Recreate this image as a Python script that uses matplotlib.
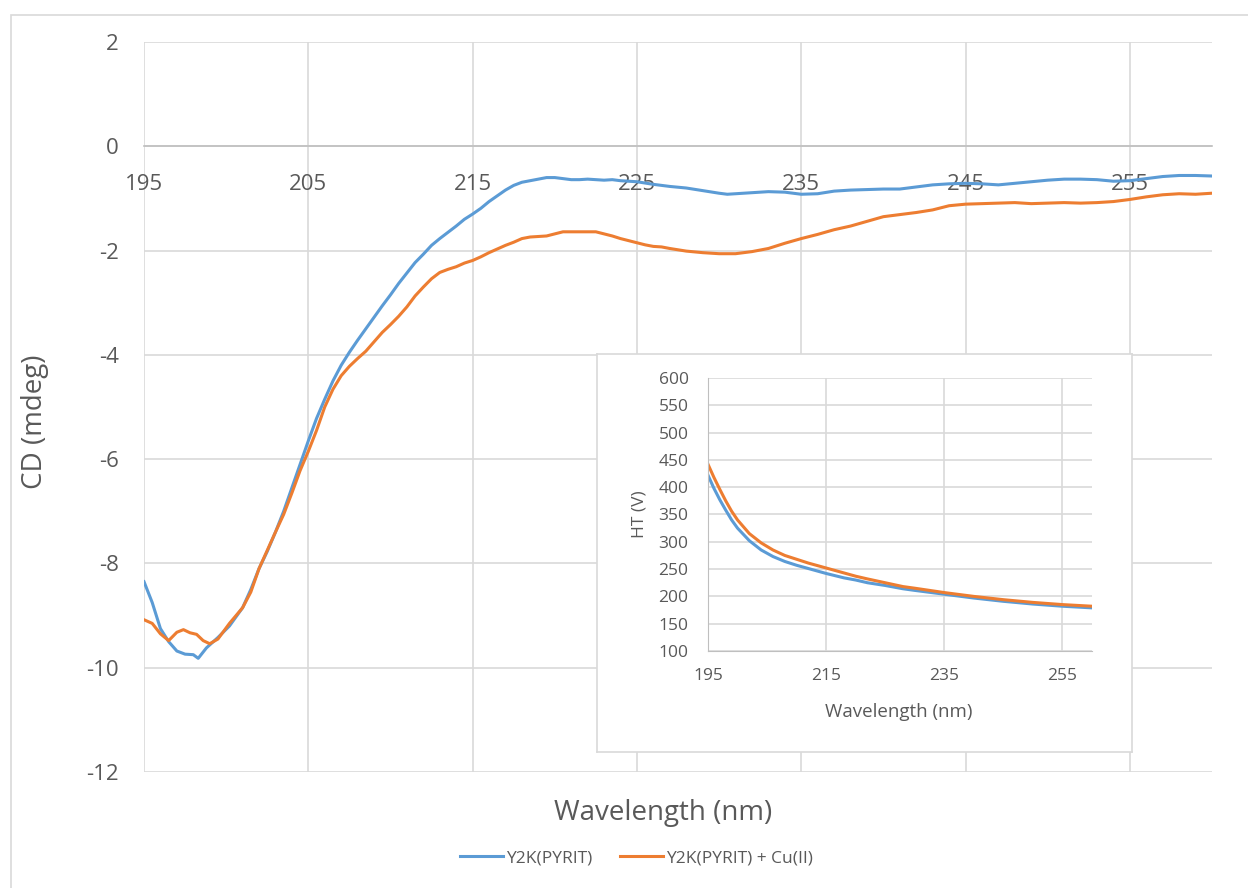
import matplotlib
matplotlib.use("Agg")
import matplotlib.pyplot as plt
from matplotlib.patches import Rectangle

plt.rcParams['font.family'] = ['Open Sans', 'DejaVu Sans']
plt.rcParams['axes.unicode_minus'] = False

# CD spectra (mdeg)
wl_pyrit = [195.0, 195.5, 196.0, 196.5, 197.0, 197.5, 198.0, 198.3, 198.8, 199.5,
            200.2, 201.0, 201.5, 202.0, 202.5, 203.0, 203.5, 204.0, 204.5, 205.0,
            205.5, 206.0, 206.5, 207.0, 207.5, 208.0, 208.5, 209.0, 209.5, 210.0,
            210.5, 211.0, 211.5, 212.0, 212.5, 213.0, 213.5, 214.0, 214.5, 215.0,
            215.5, 216.0, 216.5, 217.0, 217.5, 218.0, 218.5, 219.0, 219.5, 220.0,
            220.5, 221.0, 221.5, 222.0, 222.5, 223.0, 223.5, 224.0, 225.0, 226.0,
            227.0, 228.0, 229.0, 230.0, 230.5, 231.0, 232.0, 233.0, 234.0, 235.0,
            236.0, 237.0, 238.0, 239.0, 240.0, 241.0, 242.0, 243.0, 244.0, 245.0,
            246.0, 247.0, 248.0, 249.0, 250.0, 251.0, 252.0, 253.0, 254.0, 255.0,
            256.0, 257.0, 258.0, 259.0, 260.0]
cd_pyrit = [-8.35, -8.75, -9.25, -9.5, -9.68, -9.74, -9.75, -9.82, -9.62, -9.42,
            -9.2, -8.85, -8.5, -8.1, -7.77, -7.4, -7.0, -6.55, -6.1, -5.65,
            -5.22, -4.85, -4.5, -4.2, -3.95, -3.72, -3.5, -3.28, -3.06, -2.85,
            -2.63, -2.43, -2.23, -2.07, -1.9, -1.77, -1.65, -1.53, -1.4, -1.3,
            -1.19, -1.06, -0.95, -0.84, -0.75, -0.69, -0.66, -0.63, -0.6, -0.6,
            -0.62, -0.64, -0.64, -0.63, -0.64, -0.65, -0.64, -0.66, -0.68, -0.73,
            -0.77, -0.8, -0.85, -0.9, -0.92, -0.91, -0.89, -0.87, -0.88, -0.92,
            -0.91, -0.86, -0.84, -0.83, -0.82, -0.82, -0.78, -0.74, -0.72, -0.71,
            -0.72, -0.74, -0.71, -0.68, -0.65, -0.63, -0.63, -0.64, -0.67, -0.66,
            -0.62, -0.58, -0.56, -0.56, -0.57]

wl_cu = [195.0, 195.5, 196.0, 196.5, 197.0, 197.4, 197.8, 198.2, 198.6, 199.0,
         199.5, 200.2, 201.0, 201.5, 202.0, 202.5, 203.0, 203.5, 204.0, 204.5,
         205.0, 205.5, 206.0, 206.5, 207.0, 207.5, 208.0, 208.5, 209.0, 209.5,
         210.0, 210.5, 211.0, 211.5, 212.0, 212.5, 213.0, 213.5, 214.0, 214.5,
         215.0, 215.5, 216.0, 216.5, 217.0, 217.5, 218.0, 218.5, 219.0, 219.5,
         220.0, 220.5, 221.0, 221.5, 222.0, 222.5, 223.0, 223.5, 224.0, 224.5,
         225.0, 225.5, 226.0, 226.5, 227.0, 228.0, 229.0, 229.5, 230.0, 230.5,
         231.0, 232.0, 233.0, 234.0, 235.0, 236.0, 237.0, 238.0, 239.0, 240.0,
         241.0, 242.0, 243.0, 244.0, 245.0, 246.0, 247.0, 248.0, 249.0, 250.0,
         251.0, 252.0, 253.0, 254.0, 255.0, 256.0, 257.0, 258.0, 259.0, 260.0]
cd_cu = [-9.08, -9.15, -9.35, -9.48, -9.32, -9.27, -9.33, -9.36, -9.48, -9.54,
         -9.45, -9.15, -8.85, -8.55, -8.1, -7.75, -7.4, -7.06, -6.65, -6.22,
         -5.85, -5.45, -5.0, -4.66, -4.4, -4.22, -4.07, -3.93, -3.75, -3.57,
         -3.42, -3.26, -3.08, -2.87, -2.7, -2.54, -2.42, -2.36, -2.31, -2.24,
         -2.19, -2.12, -2.04, -1.97, -1.9, -1.84, -1.77, -1.74, -1.73, -1.72,
         -1.68, -1.64, -1.64, -1.64, -1.64, -1.64, -1.68, -1.72, -1.77, -1.81,
         -1.85, -1.89, -1.92, -1.93, -1.96, -2.01, -2.04, -2.05, -2.06, -2.06,
         -2.06, -2.02, -1.96, -1.86, -1.77, -1.69, -1.6, -1.53, -1.44, -1.35,
         -1.31, -1.27, -1.22, -1.14, -1.11, -1.1, -1.09, -1.08, -1.1, -1.09,
         -1.08, -1.09, -1.08, -1.06, -1.02, -0.97, -0.93, -0.91, -0.92, -0.9]

# HT voltage (inset)
ht_wl = [195, 196, 197, 198, 199, 200, 202, 204, 206, 208, 210, 212, 215,
         218, 220, 222, 225, 228, 230, 235, 240, 245, 250, 255, 260]
ht_pyrit = [422, 398, 377, 358, 340, 325, 302, 285, 273, 264, 257, 251, 242,
            234, 230, 225, 220, 214, 211, 204, 197, 191, 186, 182, 179]
ht_cu = [442, 418, 396, 375, 356, 340, 315, 298, 285, 275, 268, 261, 252,
         243, 237, 232, 225, 218, 215, 207, 200, 194, 189, 185, 182]

labels = ["Y2K(PYRIT)", "Y2K(PYRIT) + Cu(II)"]

blue = "#5B9BD5"
orange = "#ED7D31"
grid = "#D9D9D9"
txt = "#595959"

W, H = 1248, 888
fig = plt.figure(figsize=(W / 100, H / 100), dpi=100)


def box(l, t, r, b):
    # pixel box -> figure fraction rect
    return [l / W, 1 - b / H, (r - l) / W, (b - t) / H]


# chart border (cropped screenshot, runs off right/bottom)
fig.patches.append(Rectangle((11 / W, -0.1), 1.2, 1 - 15 / H + 0.1,
                             transform=fig.transFigure, fill=False,
                             edgecolor=grid, linewidth=1.2))

ax = fig.add_axes(box(144, 42, 1212, 772))
l1, = ax.plot(wl_pyrit, cd_pyrit, color=blue, lw=2.2)
l2, = ax.plot(wl_cu, cd_cu, color=orange, lw=2.2)
ax.set_xlim(195, 260)
ax.set_ylim(-12, 2)
ax.set_xticks(range(195, 260, 10))
ax.set_yticks(range(-12, 3, 2))
ax.grid(True, color=grid, lw=1.2)
ax.set_axisbelow(True)
for s in ["top", "right", "left"]:
    ax.spines[s].set_visible(False)
ax.spines["bottom"].set_position(("data", 0))
ax.spines["bottom"].set_color("#BFBFBF")
ax.spines["bottom"].set_linewidth(1.2)
ax.tick_params(axis="both", length=0, labelsize=16, labelcolor=txt)
ax.tick_params(axis="x", pad=20)
ax.tick_params(axis="y", pad=18)

fig.text(35 / W, 1 - 422 / H, "CD (mdeg)", rotation=90, ha="center",
         va="center", fontsize=20, color=txt)
fig.text(663 / W, 1 - 813 / H, "Wavelength (nm)", ha="center",
         va="center", fontsize=20, color=txt)

fig.legend([l1, l2], labels, loc="center", bbox_to_anchor=(636 / W, 1 - 858 / H),
           ncol=2, frameon=False, fontsize=12.5, handlelength=2.5,
           handletextpad=0.15, columnspacing=1.6, labelcolor=txt)

# inset panel
frame = fig.add_axes(box(597, 354, 1132, 752))
frame.set_xticks([])
frame.set_yticks([])
for s in frame.spines.values():
    s.set_color(grid)
    s.set_linewidth(1.2)

axi = fig.add_axes(box(708, 378, 1092, 651))
axi.plot(ht_wl, ht_pyrit, color=blue, lw=2.2)
axi.plot(ht_wl, ht_cu, color=orange, lw=2.2)
axi.set_xlim(195, 260)
axi.set_ylim(100, 600)
axi.set_xticks(range(195, 260, 20))
axi.set_yticks(range(100, 601, 50))
axi.grid(True, color=grid, lw=1.2)
axi.set_axisbelow(True)
axi.spines["top"].set_visible(False)
axi.spines["right"].set_visible(False)
axi.spines["left"].set_color("#BFBFBF")
axi.spines["bottom"].set_color("#BFBFBF")
axi.tick_params(axis="both", length=0, labelsize=12.5, labelcolor=txt)
axi.tick_params(axis="x", pad=12)
axi.tick_params(axis="y", pad=14)
fig.text(640 / W, 1 - 514 / H, "HT (V)", rotation=90, ha="center",
         va="center", fontsize=12.5, color=txt)
fig.text(899 / W, 1 - 712 / H, "Wavelength (nm)", ha="center",
         va="center", fontsize=13.5, color=txt)

fig.savefig("out.png", dpi=100)
